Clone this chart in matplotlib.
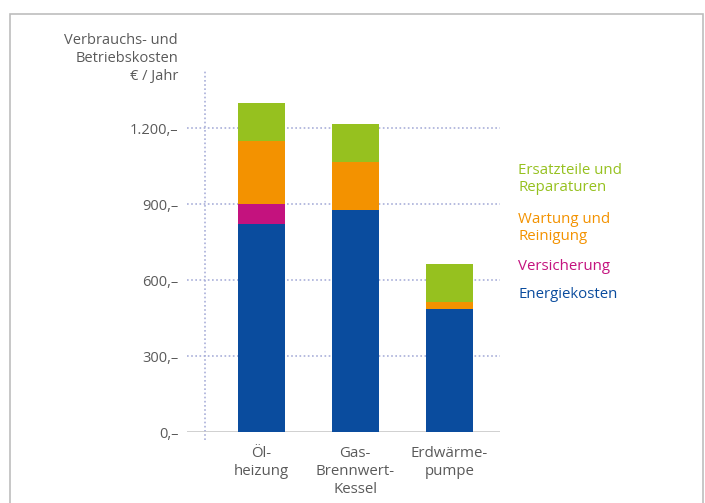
import matplotlib
matplotlib.use("Agg")
import matplotlib.pyplot as plt
import matplotlib.patches as patches
import numpy as np

plt.rcParams["font.family"] = ["Open Sans", "DejaVu Sans"]

categories = ["Öl-\nheizung", "Gas-\nBrennwert-\nKessel", "Erdwärme-\npumpe"]
energie = [820, 875, 485]
versicherung = [80, 0, 0]
wartung = [250, 190, 30]
ersatz = [150, 150, 150]

series = [energie, versicherung, wartung, ersatz]
series_colors = ["#0a4c9e", "#c4127e", "#f39200", "#96c11f"]
legend_labels = ["Energiekosten", "Versicherung", "Wartung und\nReinigung",
                 "Ersatzteile und\nReparaturen"]
legend_y = [295, 266, 228, 179]

yticks = [0, 300, 600, 900, 1200]
ytick_labels = ["0,–", "300,–", "600,–", "900,–", "1.200,–"]

W, H = 705, 503
fig = plt.figure(figsize=(W / 100, H / 100), dpi=100)
fig.patch.set_facecolor("white")

ax = fig.add_axes([187 / W, 1 - 432 / H, (500 - 187) / W, (432 - 70) / H])
ax.set_xlim(-0.79, 2.54)
ax.set_ylim(0, 1429)

x = np.arange(len(categories))
bottom = np.zeros(len(categories))
for vals, col in zip(series, series_colors):
    ax.bar(x, vals, width=0.5, bottom=bottom, color=col, zorder=3)
    bottom += np.array(vals)

for t in yticks[1:]:
    ax.axhline(t, color="#a9afd9", linestyle=(0, (1, 1.5)), linewidth=1.2, zorder=1)
ax.axhline(0, color="#c8c8c8", linewidth=1.2, zorder=2)
ax.plot([-0.6, -0.6], [-30, 1429], color="#a9afd9", linestyle=(0, (1, 1.5)),
        linewidth=1.2, clip_on=False, zorder=1)

for s in ax.spines.values():
    s.set_visible(False)
ax.set_yticks(yticks)
ax.set_yticklabels(ytick_labels)
ax.set_xticks(x)
ax.set_xticklabels(categories, linespacing=1.3)
ax.tick_params(axis="y", length=0, pad=6, labelsize=10.5, labelcolor="#5a5a5a")
ax.tick_params(axis="x", length=0, pad=10, labelsize=10.8, labelcolor="#5a5a5a")

fig.text(178 / W, 1 - 33 / H, "Verbrauchs- und\nBetriebskosten\n€ / Jahr",
         ha="right", va="top", multialignment="right", fontsize=10.5,
         color="#5a5a5a", linespacing=1.25)

for lab, yy, col in zip(legend_labels, legend_y, series_colors):
    fig.text(518 / W, 1 - yy / H, lab, ha="left", va="center", fontsize=10.8,
             color=col, linespacing=1.2)

frame = patches.Rectangle((10 / W, -0.1), (703 - 10) / W, 1 - 14 / H + 0.1,
                          transform=fig.transFigure, fill=False,
                          edgecolor="#bdbdbd", linewidth=1.2)
fig.patches.append(frame)

fig.savefig("out.png", dpi=100, facecolor="white")
